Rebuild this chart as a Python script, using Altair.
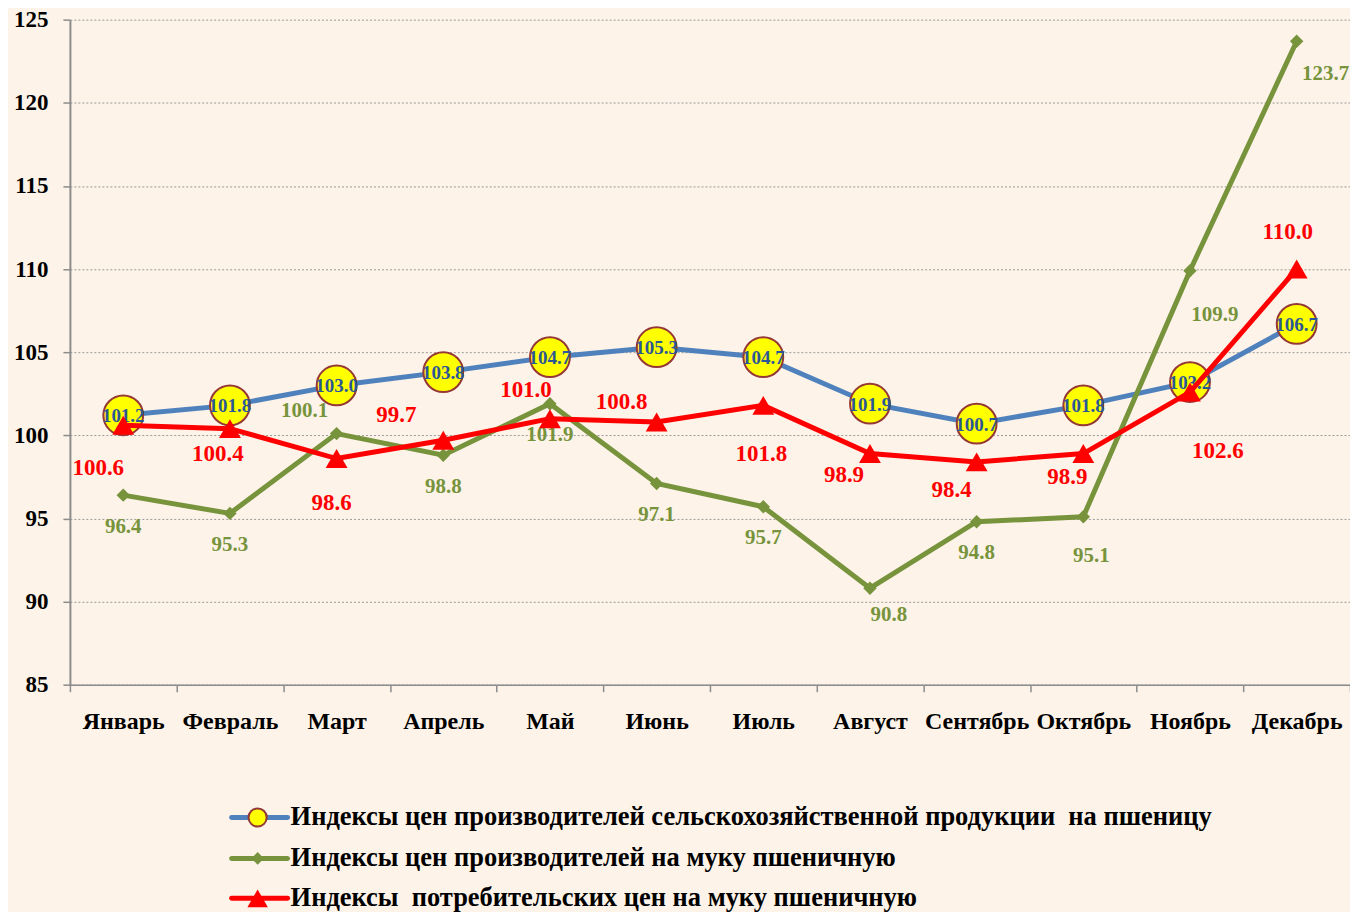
import altair as alt
import pandas as pd

MONTHS = ["Январь", "Февраль", "Март", "Апрель", "Май", "Июнь", "Июль",
          "Август", "Сентябрь", "Октябрь", "Ноябрь", "Декабрь"]
WHEAT = [101.2, 101.8, 103.0, 103.8, 104.7, 105.3, 104.7, 101.9, 100.7, 101.8, 103.2, 106.7]
FLOUR_PROD = [96.4, 95.3, 100.1, 98.8, 101.9, 97.1, 95.7, 90.8, 94.8, 95.1, 109.9, 123.7]
FLOUR_CONS = [100.6, 100.4, 98.6, 99.7, 101.0, 100.8, 101.8, 98.9, 98.4, 98.9, 102.6, 110.0]
SERIES_NAMES = [
    "Индексы цен производителей сельскохозяйственной продукции \u00a0на пшеницу",
    "Индексы цен производителей на муку пшеничную",
    "Индексы \u00a0потребительских цен на муку пшеничную",
]
Y_TICKS = [85, 90, 95, 100, 105, 110, 115, 120, 125]

# label placement (pixel offsets from the point), kept apart from the data
GREEN_OFFSETS = {"Январь": (0, 32), "Февраль": (0, 32), "Март": (-32, -23), "Апрель": (0, 32),
                 "Май": (0, 31), "Июнь": (0, 32), "Июль": (0, 31), "Август": (19, 27),
                 "Сентябрь": (0, 31), "Октябрь": (8, 39), "Ноябрь": (25, 44), "Декабрь": (29, 33)}
RED_OFFSETS = {"Январь": (-25, 43), "Февраль": (-12, 25), "Март": (-5, 45), "Апрель": (-47, -25),
               "Май": (-24, -29), "Июнь": (-35, -20), "Июль": (-2, 49), "Август": (-26, 21),
               "Сентябрь": (-25, 28), "Октябрь": (-16, 23), "Ноябрь": (28, 59), "Декабрь": (-9, -37)}

BLUE = "#4F81BD"
GREEN = "#77933C"
RED = "#FF0000"
FONT = "Liberation Serif"
TOP = 11
W, H = 1282, 666


def frame(values):
    return pd.DataFrame({"month": MONTHS, "value": values})


x_enc = alt.X(
    "month:N", sort=MONTHS, bandPosition=0.5,
    scale=alt.Scale(type="band", domain=MONTHS, paddingInner=0, paddingOuter=0),
    axis=alt.Axis(title=None, tickBand="extent", labelAngle=0, grid=False,
                  domainColor="#8C8C8C", domainWidth=1.5, tickColor="#8C8C8C",
                  tickWidth=1.5, tickSize=7, labelPadding=18,
                  labelFont=FONT, labelFontSize=24, labelFontWeight="bold",
                  labelColor="#000000"),
)
y_enc = alt.Y(
    "value:Q",
    scale=alt.Scale(domain=[85, 125], nice=False, zero=False),
    axis=alt.Axis(title=None, values=Y_TICKS, grid=True, gridDash=[2, 2],
                  gridColor="#9A9A9A", gridWidth=1, domainColor="#8C8C8C",
                  domainWidth=2, tickColor="#8C8C8C", tickWidth=1.5, tickSize=7,
                  labelPadding=15, labelFont=FONT, labelFontSize=23,
                  labelFontWeight="bold", labelColor="#000000"),
)


def base(values):
    return alt.Chart(frame(values)).encode(x=x_enc, y=y_enc)


def labels(values, offsets, color, size):
    groups = {}
    for m in MONTHS:
        groups.setdefault(offsets[m], []).append(m)
    out = []
    for (dx, dy), months in groups.items():
        out.append(
            base(values).transform_filter(alt.FieldOneOfPredicate(field="month", oneOf=months))
            .mark_text(dx=dx, dy=dy, font=FONT, fontSize=size, fontWeight="bold",
                       color=color, baseline="middle", align="center")
            .encode(text=alt.Text("value:Q", format=".1f"))
        )
    return out


layers = []
# blue series
layers.append(base(WHEAT).mark_line(color=BLUE, strokeWidth=5))
layers.append(base(WHEAT).mark_point(shape="circle", filled=True, fill="#FFFF00",
                                     stroke="#953735", strokeWidth=2, size=1590, opacity=1))
layers.append(base(WHEAT).mark_text(font=FONT, fontSize=19, fontWeight="bold", color="#2B5797",
                                    baseline="middle", align="center", dy=1)
              .encode(text=alt.Text("value:Q", format=".1f")))
# green series
layers.append(base(FLOUR_PROD).mark_line(color=GREEN, strokeWidth=5))
layers.append(base(FLOUR_PROD).mark_point(shape="diamond", filled=True, color=GREEN,
                                          size=180, opacity=1))
layers += labels(FLOUR_PROD, GREEN_OFFSETS, GREEN, 21)
# red series
layers.append(base(FLOUR_CONS).mark_line(color=RED, strokeWidth=5))
layers.append(base(FLOUR_CONS).mark_point(shape="triangle-up", filled=True, color=RED,
                                          size=480, opacity=1))
layers += labels(FLOUR_CONS, RED_OFFSETS, RED, 23)

# manual legend below the plot
LEG_ROWS = [818 - 8 - TOP, 859 - 8 - TOP, 899 - 8 - TOP]
LEG_X0, LEG_X1, LEG_XM, LEG_XT = 162, 218, 188, 221
leg_style = [
    (BLUE, dict(shape="circle", fill="#FFFF00", stroke="#953735", strokeWidth=2, size=330)),
    (GREEN, dict(shape="diamond", fill=GREEN, stroke=GREEN, strokeWidth=0, size=160)),
    (RED, dict(shape="triangle-up", fill=RED, stroke=RED, strokeWidth=0, size=420)),
]
for name, row, (col, mk) in zip(SERIES_NAMES, LEG_ROWS, leg_style):
    d = pd.DataFrame({"label": [name]})
    layers.append(alt.Chart(d).mark_rule(color=col, strokeWidth=5, strokeCap="round")
                  .encode(x=alt.value(LEG_X0), x2=alt.value(LEG_X1), y=alt.value(row)))
    layers.append(alt.Chart(d).mark_point(filled=True, opacity=1, **mk)
                  .encode(x=alt.value(LEG_XM), y=alt.value(row)))
    layers.append(alt.Chart(d).mark_text(font=FONT, fontSize=26.5, fontWeight="bold",
                                         color="#000000", align="left", baseline="middle")
                  .encode(x=alt.value(LEG_XT), y=alt.value(row), text="label:N"))

chart = (
    alt.layer(*layers)
    .properties(width=W, height=H,
                autosize=alt.AutoSizeParams(type="none"),
                padding={"left": 62, "top": TOP, "right": 0, "bottom": 912 - 8 - TOP - H},
                background="#FDF3E8")
    .configure_view(stroke=None)
)

chart.save("out.html", embed_options={"renderer": "svg", "actions": False})
